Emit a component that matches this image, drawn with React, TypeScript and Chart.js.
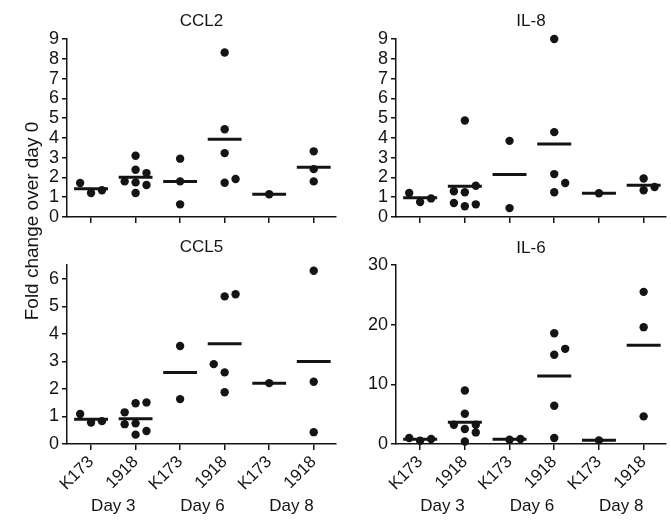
import React, { useEffect, useRef } from "react";
import { Chart, registerables } from "chart.js";

Chart.register(...registerables);

// ---------- data ----------
const groupLabels = ["K173", "1918", "K173", "1918", "K173", "1918"];
const dayLabels = ["Day 3", "Day 6", "Day 8"];
const yAxisTitle = "Fold change over day 0";

const ccl2Values = [
  [1.72, 1.21, 1.35],
  [3.1, 2.39, 1.8, 1.75, 2.22, 1.62, 1.21],
  [2.95, 1.8, 0.64],
  [8.32, 4.44, 3.23, 1.73, 1.92],
  [1.15],
  [3.32, 2.42, 1.8],
];
const ccl2Jitter = [
  [-1, 0, 1],
  [0, 0, -1, 0, 1, 1, 0],
  [0, 0, 0],
  [0, 0, 0, 0, 1],
  [0],
  [0, 0, 0],
];

const il8Values = [
  [1.21, 0.76, 0.94],
  [4.88, 1.3, 1.25, 1.58, 0.71, 0.54, 0.64],
  [3.85, 0.45],
  [9.0, 4.29, 2.17, 1.72, 1.25],
  [1.2],
  [1.95, 1.35, 1.52],
];
const il8Jitter = [
  [-1, 0, 1],
  [0, -1, 0, 1, -1, 0, 1],
  [0, 0],
  [0, 0, 0, 1, 0],
  [0],
  [0, 0, 1],
];

const ccl5Values = [
  [1.09, 0.78, 0.83],
  [1.15, 0.72, 1.48, 0.75, 0.34, 1.51, 0.47],
  [3.56, 1.63],
  [5.36, 5.44, 2.9, 2.6, 1.88],
  [2.21],
  [6.29, 2.26, 0.43],
];
const ccl5Jitter = [
  [-1, 0, 1],
  [-1, -1, 0, 0, 0, 1, 1],
  [0, 0],
  [0, 1, -1, 0, 0],
  [0],
  [0, 0, 0],
];

const il6Values = [
  [1.0, 0.56, 0.84],
  [8.97, 5.07, 3.23, 2.51, 3.23, 1.94, 0.43],
  [0.72, 0.84],
  [18.57, 15.95, 14.95, 6.41, 1.0],
  [0.61],
  [25.5, 19.58, 4.63],
];
const il6Jitter = [
  [-1, 0, 1],
  [0, 0, -1, 0, 1, 1, 0],
  [0, 1],
  [0, 1, 0, 0, 0],
  [0],
  [0, 0, 0],
];

const ccl2Ticks = [0, 1, 2, 3, 4, 5, 6, 7, 8, 9];
const il8Ticks = [0, 1, 2, 3, 4, 5, 6, 7, 8, 9];
const ccl5Ticks = [0, 1, 2, 3, 4, 5, 6];
const il6Ticks = [0, 10, 20, 30];

// ---------- layout / style ----------
const W = 671;
const H = 521;
const JIT = 0.245;
const MEAN_HALF = 0.38;
const INK = "#141414";
const FONT_FAMILY = '"Liberation Sans", Arial, Helvetica, sans-serif';
const Y_AXIS_W = 60;

type Area = { left: number; top: number; right: number; bottom: number };
type PanelProps = {
  title: string;
  values: number[][];
  jitter: number[][];
  yMax: number;
  yTicks: number[];
  area: Area;
  bottomRow: boolean;
  yTitle: boolean;
  titleY: number;
};

const mean = (a: number[]) => a.reduce((s, v) => s + v, 0) / a.length;

const textPlugin = {
  id: "panelText",
  afterDraw(chart: any, _args: any, opts: any) {
    const ctx = chart.ctx;
    const a = chart.chartArea;
    ctx.save();
    ctx.fillStyle = INK;
    ctx.font = `17px ${FONT_FAMILY}`;
    ctx.textAlign = "center";
    ctx.textBaseline = "middle";
    ctx.fillText(opts.title, (a.left + a.right) / 2, opts.titleY);
    if (opts.bottomRow) {
      const xs = chart.scales.x;
      dayLabels.forEach((d: string, i: number) => {
        ctx.fillText(d, xs.getPixelForValue(2 * i + 1.5), 506);
      });
    }
    if (opts.yTitle) {
      ctx.font = `19px ${FONT_FAMILY}`;
      ctx.translate(33, 221);
      ctx.rotate(-Math.PI / 2);
      ctx.fillText(yAxisTitle, 0, 0);
    }
    ctx.restore();
  },
};

function Panel(props: PanelProps) {
  const ref = useRef<HTMLCanvasElement | null>(null);
  useEffect(() => {
    const { title, values, jitter, yMax, yTicks, area, bottomRow, yTitle, titleY } = props;
    const points: { x: number; y: number }[] = [];
    values.forEach((grp, i) => {
      grp.forEach((v, j) => points.push({ x: i + 1 + jitter[i][j] * JIT, y: v }));
    });
    const meanSets = values.map((grp, i) => {
      const m = mean(grp);
      return {
        type: "line" as const,
        data: [
          { x: i + 1 - MEAN_HALF, y: m },
          { x: i + 1 + MEAN_HALF, y: m },
        ],
        borderColor: INK,
        borderWidth: 3,
        pointRadius: 0,
        fill: false,
        clip: false as any,
      };
    });
    const xH = bottomRow ? 60 : 10;
    const chart = new Chart(ref.current!, {
      type: "scatter",
      data: {
        datasets: [
          {
            type: "scatter",
            data: points,
            pointRadius: 4.2,
            pointHoverRadius: 4.2,
            pointBackgroundColor: INK,
            pointBorderWidth: 0,
            borderColor: INK,
            clip: false as any,
          } as any,
          ...meanSets,
        ],
      },
      options: {
        responsive: false,
        animation: false,
        devicePixelRatio: 1,
        events: [],
        layout: {
          padding: {
            left: area.left - Y_AXIS_W,
            top: area.top,
            right: W - area.right,
            bottom: H - area.bottom - xH,
          },
        },
        plugins: {
          legend: { display: false },
          tooltip: { enabled: false },
          title: { display: false },
          panelText: { title, bottomRow, yTitle, titleY },
        } as any,
        scales: {
          x: {
            type: "linear",
            min: 0.46,
            max: 6.5,
            afterBuildTicks: (s: any) => {
              s.ticks = groupLabels.map((_, i) => ({ value: i + 1 }));
            },
            afterFit: (s: any) => {
              s.height = xH;
            },
            ticks: {
              display: bottomRow,
              autoSkip: false,
              minRotation: 45,
              maxRotation: 45,
              padding: 2,
              color: INK,
              font: { size: 17, family: FONT_FAMILY },
              callback: (v: any) => groupLabels[Math.round(Number(v)) - 1] ?? "",
            },
            grid: {
              drawOnChartArea: false,
              drawTicks: true,
              tickLength: 6,
              color: INK,
              lineWidth: 1.5,
            },
            border: { display: true, color: INK, width: 1.5 },
          },
          y: {
            type: "linear",
            min: 0,
            max: yMax,
            afterBuildTicks: (s: any) => {
              s.ticks = yTicks.map((v) => ({ value: v }));
            },
            afterFit: (s: any) => {
              s.width = Y_AXIS_W;
            },
            ticks: {
              autoSkip: false,
              padding: 3,
              color: INK,
              font: { size: 18, family: FONT_FAMILY },
            },
            grid: {
              drawOnChartArea: false,
              drawTicks: true,
              tickLength: 5,
              color: INK,
              lineWidth: 1.5,
            },
            border: { display: true, color: INK, width: 1.5 },
          },
        },
      },
      plugins: [textPlugin as any],
    });
    return () => chart.destroy();
  }, []);
  return (
    <canvas
      ref={ref}
      width={W}
      height={H}
      style={{ position: "absolute", left: 0, top: 0, width: W, height: H }}
    />
  );
}

export default function App() {
  return (
    <div style={{ position: "absolute", left: 0, top: 0, width: W, height: H, background: "#fff" }}>
      <Panel
        title="CCL2"
        values={ccl2Values}
        jitter={ccl2Jitter}
        yMax={9}
        yTicks={ccl2Ticks}
        area={{ left: 67, top: 39, right: 336, bottom: 217 }}
        bottomRow={false}
        yTitle={false}
        titleY={21}
      />
      <Panel
        title="IL-8"
        values={il8Values}
        jitter={il8Jitter}
        yMax={9}
        yTicks={il8Ticks}
        area={{ left: 396, top: 39, right: 666, bottom: 217 }}
        bottomRow={false}
        yTitle={false}
        titleY={21}
      />
      <Panel
        title="CCL5"
        values={ccl5Values}
        jitter={ccl5Jitter}
        yMax={6.5}
        yTicks={ccl5Ticks}
        area={{ left: 67, top: 265, right: 336, bottom: 444 }}
        bottomRow={true}
        yTitle={true}
        titleY={247}
      />
      <Panel
        title="IL-6"
        values={il6Values}
        jitter={il6Jitter}
        yMax={30}
        yTicks={il6Ticks}
        area={{ left: 396, top: 265, right: 666, bottom: 444 }}
        bottomRow={true}
        yTitle={false}
        titleY={248}
      />
    </div>
  );
}
